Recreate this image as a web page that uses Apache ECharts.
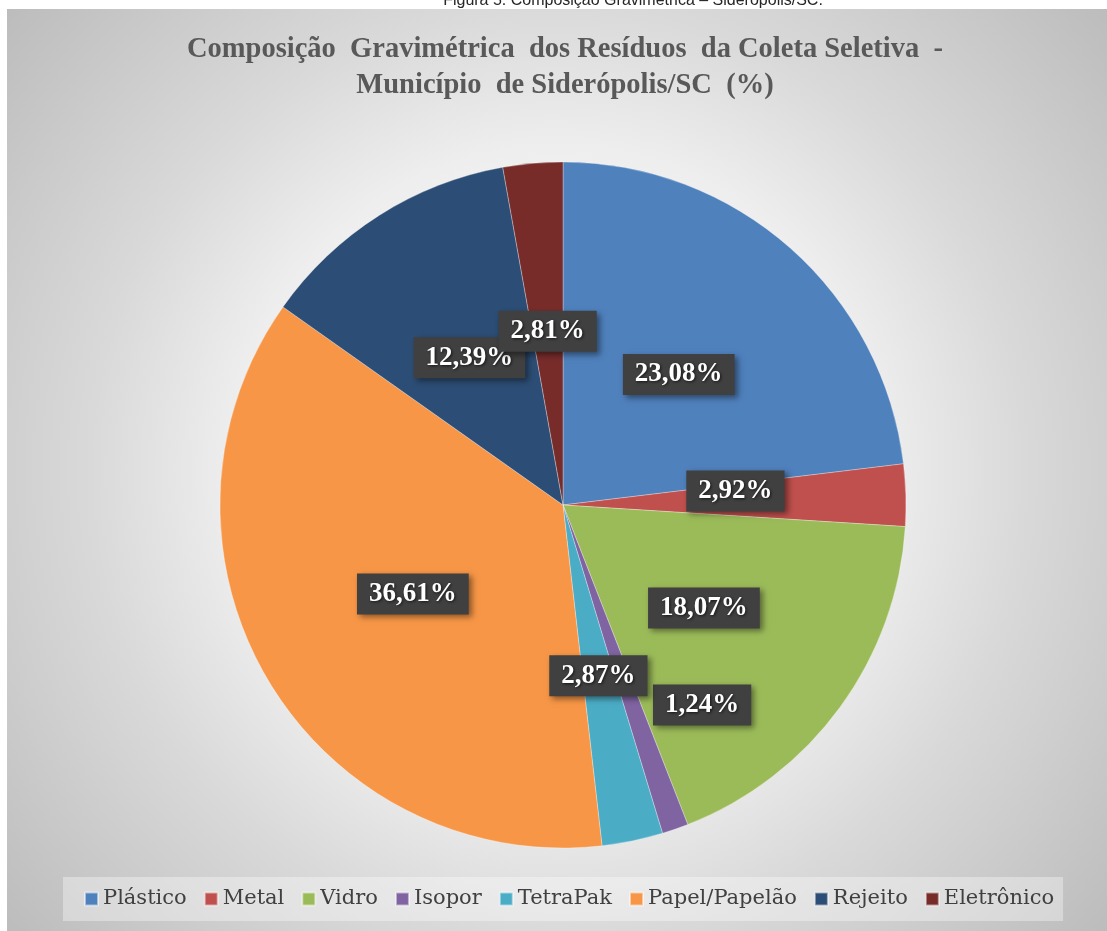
<!DOCTYPE html>
<html>
<head>
<meta charset="utf-8">
<script src="https://cdn.jsdelivr.net/npm/echarts@6/dist/echarts.min.js"></script>
<style>
  html, body { margin: 0; padding: 0; background: #fff; }
  #chart { width: 1107px; height: 931px; }
</style>
</head>
<body>
<div id="chart"></div>
<script>
// categorias e valores (%)
var categorias = ['Plástico', 'Metal', 'Vidro', 'Isopor', 'TetraPak', 'Papel/Papelão', 'Rejeito', 'Eletrônico'];
var valores = [23.08, 2.92, 18.07, 1.24, 2.87, 36.61, 12.39, 2.81];
var cores = ['#4F81BD', '#C0504D', '#9BBB59', '#8064A2', '#4BACC6', '#F79646', '#2C4D75', '#772C2A'];

var chart = echarts.init(document.getElementById('chart'));

var dados = [];
for (var i = 0; i < categorias.length; i++) {
  dados.push({ name: categorias[i], value: valores[i] });
}

var option = {
  backgroundColor: '#ffffff',
  animation: false,
  color: cores,
  graphic: [
    {
      type: 'text', z: 0,
      x: 633, y: 9,
      style: {
        text: 'Figura 5: Composição Gravimétrica – Siderópolis/SC.',
        font: '16px "Liberation Sans"', fill: '#262626',
        textAlign: 'center', textVerticalAlign: 'bottom'
      }
    },
    {
      type: 'rect', z: -10, silent: true,
      shape: { x: 7, y: 9, width: 1100, height: 922 },
      style: {
        fill: new echarts.graphic.RadialGradient(0.5, 0.5, 0.78, [
          { offset: 0, color: '#ffffff' },
          { offset: 0.45, color: '#eeeeee' },
          { offset: 0.65, color: '#d9d9d9' },
          { offset: 1, color: '#bcbcbc' }
        ])
      }
    }
  ],
  title: {
    text: 'Composição  Gravimétrica  dos Resíduos  da Coleta Seletiva  -\nMunicípio  de Siderópolis/SC  (%)',
    left: 560,
    top: 27,
    textAlign: 'center',
    textStyle: {
      fontFamily: 'Liberation Serif',
      fontWeight: 'bold',
      fontSize: 28.5,
      lineHeight: 36,
      color: '#595959'
    }
  },
  legend: {
    left: 63,
    top: 877,
    padding: [11, 9, 11, 21],
    backgroundColor: 'rgba(255,255,255,0.35)',
    icon: 'rect',
    itemWidth: 13,
    itemHeight: 13,
    itemGap: 17,
    selectedMode: false,
    textStyle: {
      fontFamily: 'DejaVu Serif',
      fontSize: 21,
      lineHeight: 22,
      color: '#404040'
    },
    data: categorias
  },
  series: [
    {
      type: 'pie',
      center: [563, 505],
      radius: 343,
      startAngle: 90,
      clockwise: true,
      silent: true,
      itemStyle: { borderColor: 'rgba(255,255,255,0.5)', borderWidth: 0.6 },
      label: {
        show: true,
        position: 'inside',
        formatter: function (p) {
          return p.value.toFixed(2).replace('.', ',') + '%';
        },
        color: '#ffffff',
        fontFamily: 'Liberation Serif',
        fontWeight: 'bold',
        fontSize: 27,
        lineHeight: 28,
        backgroundColor: '#404040',
        padding: [7, 12, 6, 12],
        textShadowColor: 'rgba(0,0,0,0.7)',
        textShadowBlur: 3,
        textShadowOffsetX: 1,
        textShadowOffsetY: 1,
        shadowColor: 'rgba(0,0,0,0.45)',
        shadowBlur: 6,
        shadowOffsetX: 3,
        shadowOffsetY: 3
      },
      labelLayout: function (params) {
        if (params.dataIndex === 3) return { dx: 82, dy: 35 };
        if (params.dataIndex === 1) return { dx: -2, dy: -9 };
        return {};
      },
      labelLine: { show: false },
      data: dados
    }
  ]
};

chart.setOption(option);
</script>
</body>
</html>
